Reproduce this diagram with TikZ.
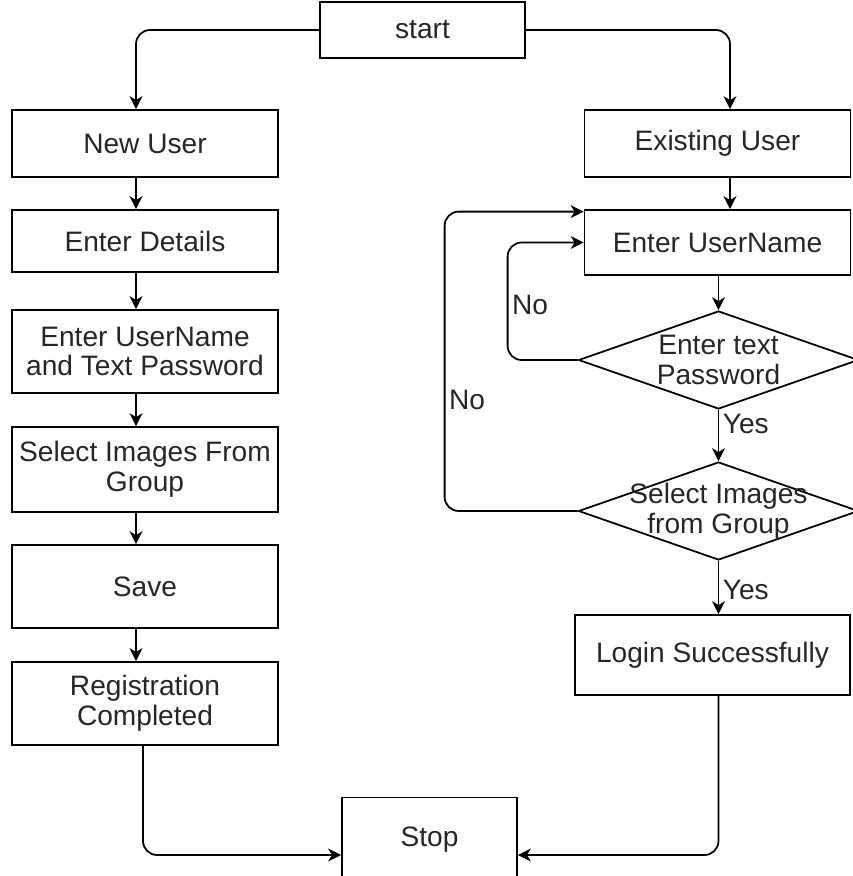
\documentclass[tikz,border=0pt]{standalone}
\usepackage{fontspec}
\setmainfont{Liberation Sans}
\usepackage{tikz}
\usetikzlibrary{shapes.geometric}
\usetikzlibrary{arrows.meta}
\usetikzlibrary{calc}

\begin{document}
\begin{tikzpicture}[>={Stealth[length=0.26cm, width=0.26cm, inset=0.08cm]}, line width=1pt,
    every node/.style={font=\fontsize{16}{17}\selectfont, text=black!85},
    box/.style={draw, rectangle, align=center, minimum width=5.32cm, minimum height=1.66cm},
    decision/.style={draw, diamond, inner sep=0pt, minimum width=5.6cm, minimum height=1.96cm},
    elbow/.style={->, rounded corners=8pt},
    answer/.style={inner sep=2pt}]
      \useasboundingbox (0,0) rectangle (17.06,-17.52);
      \clip (0,0) rectangle (17.06,-17.52);
      % columns
      \coordinate (left) at (2.9, 0);
      \coordinate (right) at (14.35, 0);
      \coordinate (lshift) at (-0.18, 0);

      \node [box, name=start, minimum width=4.1cm, minimum height=1.12cm] at (8.45, -0.6) {start};

      % new user
      \node [box, name=newuser, minimum height=1.34cm] at ($(left) + (0, -2.87)$) {New User};
      \node [box, name=details, minimum height=1.24cm] at ($(left) + (0, -4.82)$) {Enter Details};
      \node [box, name=credentials] at ($(left) + (0, -7.03)$) {Enter UserName\\and Text Password};
      \node [box, name=selectleft, minimum height=1.7cm] at ($(left) + (0, -9.39)$) {Select Images From\\Group};
      \node [box, name=save] at ($(left) + (0, -11.73)$) {Save};
      \node [box, name=registered] at ($(left) + (0, -14.07)$) {Registration\\Completed};

      % existing user
      \node [box, name=existing, minimum height=1.34cm] at ($(right) + (0, -2.87)$) {Existing User};
      \node [box, name=username, minimum height=1.3cm] at ($(right) + (0, -4.85)$) {Enter UserName};
      \node [decision, name=password, label={[align=center]center:Enter text\\Password}]
        at ($(right) + (0.02, -7.2)$) {};
      \node [decision, name=selectright, label={[align=center]center:Select Images\\from Group}]
        at ($(right) + (0.02, -10.22)$) {};
      \node [box, name=login, minimum width=5.5cm, minimum height=1.6cm] at ($(right) + (-0.1, -13.1)$) {Login Successfully};

      \node [box, name=stop, minimum width=3.5cm, minimum height=1.7cm] at (8.59, -16.8) {Stop};

      % left flow
      \draw [elbow] (start.west) -| ($(newuser.north) + (lshift)$);
      \foreach \a/\b in {newuser/details, details/credentials, credentials/selectleft,
                         selectleft/save, save/registered}
        \draw [->] ($(\a.south) + (lshift)$) -- ($(\b.north) + (lshift)$);
      \draw [elbow] ($(registered.south) + (-0.04, 0)$) |- ($(stop.west) + (0, -0.3)$);

      % right flow
      \draw [elbow] (start.east) -| ($(existing.north) + (0.25, 0)$);
      \draw [->] ($(existing.south) + (0.25, 0)$) -- ($(username.north) + (0.25, 0)$);
      \draw [->] ($(username.south) + (0.02, 0)$) -- (password.north);
      \draw [->] (password.south) -- node [answer, right, pos=0.28] {Yes} (selectright.north);
      \draw [->] (selectright.south) -- node [answer, right, pos=0.55] {Yes} (selectright.south |- login.north);
      \draw [elbow] (selectright.south |- login.south) |- ($(stop.east) + (0, -0.3)$);

      % loops back
      \draw [elbow] (password.west) -- ++(-1.4, 0) |- node [answer, pos=0.235, right] {No} (username.west);
      \draw [elbow] (selectright.west) -- ++(-2.66, 0) |- node [answer, pos=0.185, right] {No} ($(username.north west) + (0, -0.05)$);
    \end{tikzpicture}
\end{document}
